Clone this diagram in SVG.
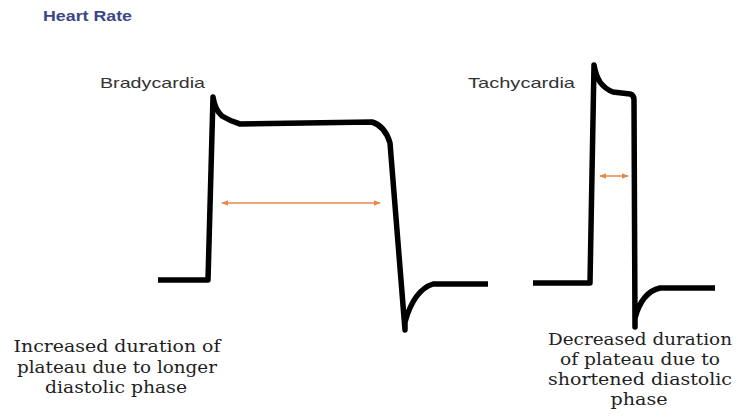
<svg xmlns="http://www.w3.org/2000/svg" width="749" height="417" viewBox="0 0 749 417">
<defs>
<style>
.trace{fill:none;stroke:#000;stroke-width:5.5;stroke-linejoin:round;stroke-linecap:butt}
.arr{stroke:#e8874a;stroke-width:1.5;fill:none}
.lbl{font-family:"Liberation Sans",Arial,sans-serif;font-size:15px;fill:#333}
.cap{font-family:"DejaVu Serif","Liberation Serif",serif;font-size:17px;fill:#1e1e1e;text-anchor:middle}
</style>
<marker id="ah" viewBox="0 0 10 10" refX="9" refY="5" markerWidth="7" markerHeight="7" orient="auto-start-reverse" markerUnits="userSpaceOnUse">
<path d="M0,1 L10,5 L0,9 Z" fill="#e8874a"/>
</marker>
</defs>
<rect width="749" height="417" fill="#fff"/>
<text x="43" y="21" font-family="'Liberation Sans',Arial,sans-serif" font-size="14" font-weight="bold" fill="#3a4886" textLength="89" lengthAdjust="spacingAndGlyphs">Heart Rate</text>

<g id="bradycardia">
<text class="lbl" x="100" y="88" textLength="105" lengthAdjust="spacingAndGlyphs">Bradycardia</text>
<path class="trace" d="M158,280 L208,280 L213,97 Q215,110 222,116 Q230,121 240,124 L372,122 Q385,126 390,143 L405,330 L405,322 Q414,290 433,284 L488,284"/>
</g>

<g id="tachycardia">
<text class="lbl" x="468" y="88" textLength="107" lengthAdjust="spacingAndGlyphs">Tachycardia</text>
<path class="trace" d="M533,283 L590,283 L594,65 Q596,76 600,82 Q605,89 613,92 L630,94 Q634,95 634,100 L635,327 L635,318 Q642,292 660,288 L715,288"/>
</g>

<g id="connectors">
<line class="arr" x1="222" y1="203" x2="380" y2="203" marker-start="url(#ah)" marker-end="url(#ah)"/>
<line class="arr" x1="600" y1="176" x2="628" y2="176" marker-start="url(#ah)" marker-end="url(#ah)"/>
</g>

<g id="caption-left">
<text class="cap" x="117" y="352" textLength="207" lengthAdjust="spacingAndGlyphs">Increased duration of</text>
<text class="cap" x="117" y="373" textLength="200" lengthAdjust="spacingAndGlyphs">plateau due to longer</text>
<text class="cap" x="116" y="393" textLength="142" lengthAdjust="spacingAndGlyphs">diastolic phase</text>
</g>

<g id="caption-right">
<text class="cap" x="640" y="345" textLength="184" lengthAdjust="spacingAndGlyphs">Decreased duration</text>
<text class="cap" x="640" y="365" textLength="160" lengthAdjust="spacingAndGlyphs">of plateau due to</text>
<text class="cap" x="640" y="385" textLength="184" lengthAdjust="spacingAndGlyphs">shortened diastolic</text>
<text class="cap" x="639" y="405" textLength="57" lengthAdjust="spacingAndGlyphs">phase</text>
</g>
</svg>
